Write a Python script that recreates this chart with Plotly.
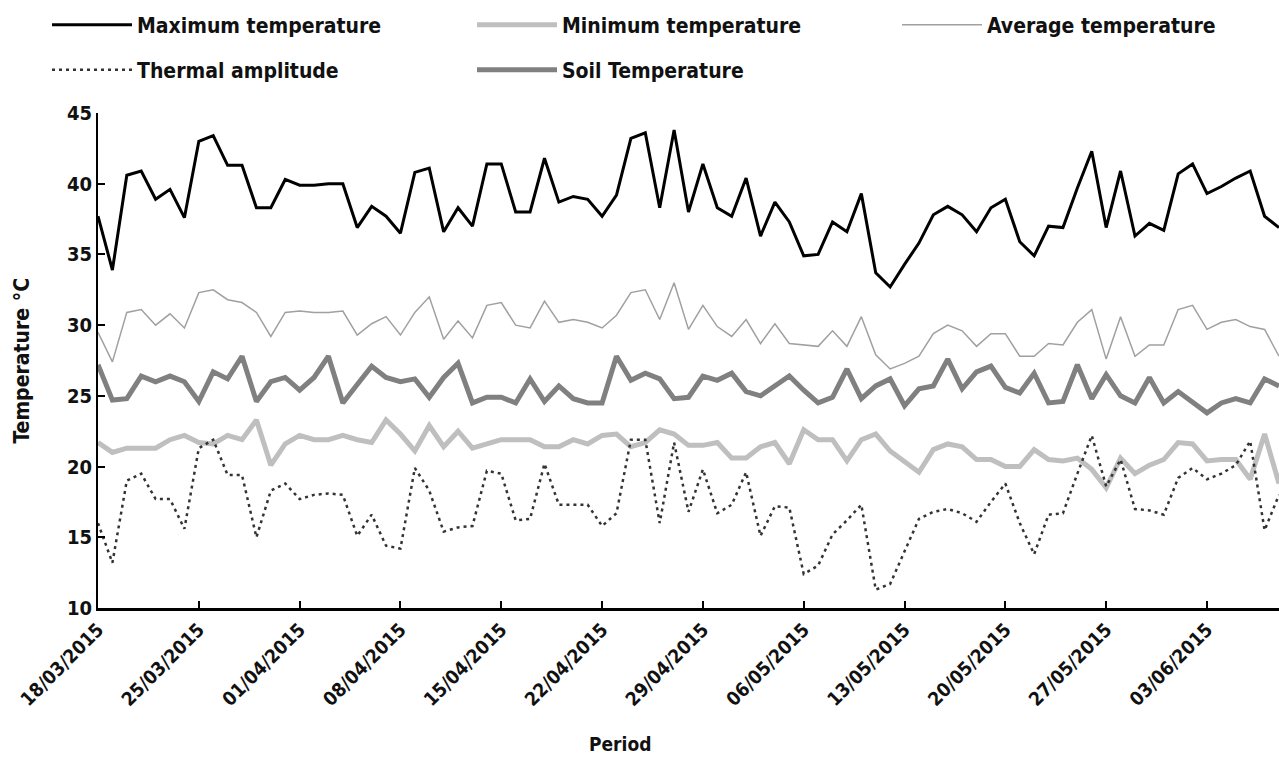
import pandas as pd
import plotly.graph_objects as go

# ---- data (daily values) ----
start_date = "2015-03-18"
n_days = 83
dates = pd.date_range(start_date, periods=n_days, freq="D")

max_temp = [37.7, 33.9, 40.6, 40.9, 38.9, 39.6, 37.6, 43.0, 43.4, 41.3,
            41.3, 38.3, 38.3, 40.3, 39.9, 39.9, 40.0, 40.0, 36.9, 38.4,
            37.7, 36.5, 40.8, 41.1, 36.6, 38.3, 37.0, 41.4, 41.4, 38.0,
            38.0, 41.8, 38.7, 39.1, 38.9, 37.7, 39.2, 43.2, 43.6, 38.3,
            43.8, 38.0, 41.4, 38.3, 37.7, 40.4, 36.3, 38.7, 37.3, 34.9,
            35.0, 37.3, 36.6, 39.3, 33.7, 32.7, 34.3, 35.8, 37.8, 38.4,
            37.8, 36.6, 38.3, 38.9, 35.9, 34.9, 37.0, 36.9, 39.7, 42.3,
            36.9, 40.9, 36.3, 37.2, 36.7, 40.7, 41.4, 39.3, 39.8, 40.4,
            40.9, 37.7, 36.9]

min_temp = [21.7, 21.0, 21.3, 21.3, 21.3, 21.9, 22.2, 21.7, 21.6, 22.2,
            21.9, 23.3, 20.1, 21.6, 22.2, 21.9, 21.9, 22.2, 21.9, 21.7,
            23.3, 22.3, 21.1, 22.9, 21.4, 22.5, 21.3, 21.6, 21.9, 21.9,
            21.9, 21.4, 21.4, 21.9, 21.6, 22.2, 22.3, 21.4, 21.7, 22.6,
            22.3, 21.5, 21.5, 21.7, 20.6, 20.6, 21.4, 21.7, 20.2, 22.6,
            21.9, 21.9, 20.4, 21.9, 22.3, 21.1, 20.4, 19.6, 21.2, 21.6,
            21.4, 20.5, 20.5, 20.0, 20.0, 21.2, 20.5, 20.4, 20.6, 19.8,
            18.5, 20.6, 19.5, 20.1, 20.5, 21.7, 21.6, 20.4, 20.5, 20.5,
            19.1, 22.3, 18.8]

avg_temp = [29.5, 27.4, 30.9, 31.1, 30.0, 30.8, 29.8, 32.3, 32.5, 31.8,
            31.6, 30.9, 29.2, 30.9, 31.0, 30.9, 30.9, 31.0, 29.3, 30.1,
            30.6, 29.3, 30.9, 32.0, 29.0, 30.3, 29.1, 31.4, 31.6, 30.0,
            29.8, 31.7, 30.2, 30.4, 30.2, 29.8, 30.7, 32.3, 32.5, 30.4,
            33.0, 29.7, 31.4, 29.9, 29.2, 30.4, 28.7, 30.1, 28.7, 28.6,
            28.5, 29.6, 28.5, 30.6, 27.9, 26.9, 27.3, 27.8, 29.4, 30.0,
            29.6, 28.5, 29.4, 29.4, 27.8, 27.8, 28.7, 28.6, 30.2, 31.1,
            27.6, 30.6, 27.8, 28.6, 28.6, 31.1, 31.4, 29.7, 30.2, 30.4,
            29.9, 29.7, 27.8]

thermal_amp = [16.0, 13.2, 19.0, 19.5, 17.7, 17.7, 15.6, 21.3, 21.9, 19.4,
               19.4, 15.0, 18.3, 18.8, 17.7, 18.0, 18.1, 18.0, 15.1, 16.6,
               14.4, 14.2, 19.9, 18.3, 15.4, 15.7, 15.8, 19.7, 19.5, 16.2,
               16.3, 20.2, 17.3, 17.3, 17.3, 15.8, 16.7, 21.9, 21.9, 16.0,
               21.7, 16.8, 19.8, 16.7, 17.3, 19.6, 15.1, 17.2, 17.1, 12.4,
               13.0, 15.2, 16.2, 17.3, 11.3, 11.7, 14.0, 16.3, 16.8, 17.0,
               16.7, 16.1, 17.5, 18.8, 16.0, 13.8, 16.6, 16.7, 19.5, 22.2,
               18.6, 20.5, 17.0, 16.9, 16.6, 19.2, 19.9, 19.1, 19.5, 20.1,
               21.8, 15.5, 18.0]

soil_temp = [27.2, 24.7, 24.8, 26.4, 26.0, 26.4, 26.0, 24.6, 26.7, 26.2,
             27.8, 24.6, 26.0, 26.3, 25.4, 26.3, 27.8, 24.5, 25.8, 27.1,
             26.3, 26.0, 26.2, 24.9, 26.3, 27.3, 24.5, 24.9, 24.9, 24.5,
             26.2, 24.6, 25.7, 24.8, 24.5, 24.5, 27.8, 26.1, 26.6, 26.2,
             24.8, 24.9, 26.4, 26.1, 26.6, 25.3, 25.0, 25.7, 26.4, 25.4,
             24.5, 24.9, 26.9, 24.8, 25.7, 26.2, 24.3, 25.5, 25.7, 27.6,
             25.5, 26.7, 27.1, 25.6, 25.2, 26.6, 24.5, 24.6, 27.2, 24.8,
             26.5, 25.0, 24.5, 26.3, 24.5, 25.3, 24.5, 23.8, 24.5, 24.8,
             24.5, 26.2, 25.7]

series_names = ["Maximum temperature", "Minimum temperature", "Average temperature",
                "Thermal amplitude", "Soil Temperature"]
y_ticks = [10, 15, 20, 25, 30, 35, 40, 45]

FONT = "DejaVu Sans Condensed, DejaVu Sans, sans-serif"

fig = go.Figure()
fig.add_trace(go.Scatter(x=dates, y=max_temp, name=series_names[0], mode="lines",
                         line=dict(color="#000000", width=3), legend="legend"))
fig.add_trace(go.Scatter(x=dates, y=min_temp, name=series_names[1], mode="lines",
                         line=dict(color="#bfbfbf", width=5), legend="legend"))
fig.add_trace(go.Scatter(x=dates, y=avg_temp, name=series_names[2], mode="lines",
                         line=dict(color="#a0a0a0", width=1.5), legend="legend"))
fig.add_trace(go.Scatter(x=dates, y=thermal_amp, name=series_names[3], mode="lines",
                         line=dict(color="#333333", width=2.5, dash="3px,4px"), legend="legend2"))
fig.add_trace(go.Scatter(x=dates, y=soil_temp, name=series_names[4], mode="lines",
                         line=dict(color="#808080", width=5), legend="legend2"))

plot_w = 1279 - 98
plot_h = 762 - 113 - 153.5
legend_common = dict(orientation="h", xanchor="left", yanchor="middle",
                     itemwidth=80, entrywidth=330, entrywidthmode="pixels",
                     font=dict(family=FONT, size=21, color="#111111", weight="bold"),
                     bgcolor="rgba(0,0,0,0)", traceorder="normal")

fig.update_layout(
    width=1279, height=762,
    margin=dict(l=98, r=0, t=113, b=153.5, autoexpand=False),
    paper_bgcolor="white", plot_bgcolor="white",
    showlegend=True,
    legend=dict(x=-51 / plot_w, y=1 + 88 / plot_h, **legend_common),
    legend2=dict(x=-51 / plot_w, y=1 + 43 / plot_h, **legend_common),
    font=dict(family=FONT, size=20, color="#111111"),
)

fig.update_xaxes(
    type="date",
    range=[dates[0], dates[-1]],
    tickmode="linear", tick0=start_date, dtick=7 * 24 * 3600 * 1000,
    tickformat="%d/%m/%Y", tickangle=-45,
    tickfont=dict(family=FONT, size=19, color="#111111", weight="bold"),
    showline=True, linecolor="#000000", linewidth=3,
    ticks="inside", ticklen=7, tickwidth=2, tickcolor="#000000",
    showgrid=False, zeroline=False, automargin=False,
)
fig.update_yaxes(
    range=[10, 45], tickvals=y_ticks,
    tickfont=dict(family=FONT, size=20, color="#111111", weight="bold"),
    showline=True, linecolor="#000000", linewidth=2,
    ticks="inside", ticklen=7, tickwidth=2, tickcolor="#000000",
    showgrid=False, zeroline=False, automargin=False,
)

fig.add_annotation(text="Temperature °C", xref="paper", yref="paper",
                   x=(21 - 98) / plot_w, y=0.5, xanchor="center", yanchor="middle",
                   textangle=-90, showarrow=False,
                   font=dict(family=FONT, size=21, color="#111111", weight="bold"))
fig.add_annotation(text="Period", xref="paper", yref="paper",
                   x=(620 - 98) / plot_w, y=-(745 - 608.5) / plot_h,
                   xanchor="center", yanchor="middle", showarrow=False,
                   font=dict(family=FONT, size=19, color="#111111", weight="bold"))

fig.write_html("out.html", config={"displayModeBar": False},
               post_script="document.body.style.margin='0';document.body.style.overflow='hidden';")
